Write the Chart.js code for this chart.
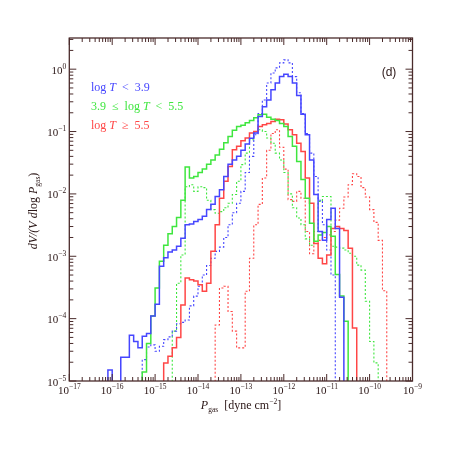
<!DOCTYPE html>
<html>
<head>
<meta charset="utf-8">
<script src="https://cdn.jsdelivr.net/npm/chart.js@4.4.1/dist/chart.umd.min.js"></script>
<style>
  html, body { margin: 0; padding: 0; background: #fff; }
  #wrap { width: 450px; height: 450px; }
</style>
</head>
<body>
<div id="wrap"><canvas id="chart" width="450" height="450"></canvas></div>
<script>
// histogram bins are 0.1 dex wide in log P_gas
var binWidth = 0.1;

// tick labels (powers of ten)
var xTickExps = [-17, -16, -15, -14, -13, -12, -11, -10, -9];
var yTickExps = [-5, -4, -3, -2, -1, 0];

// log T < 3.9, solid (first bin starts at log P = -16.1)
var blueSolidStart = -16.1;
var blueSolid = [1.5e-5, 0, 0, 2.4e-5, 2.4e-5, 5.4e-5, 4.3e-5, 3.4e-5, 5.2e-5, 5.8e-5,
	1.1e-4, 1.7e-4, 6.9e-4, 9.5e-4, 1.17e-3, 1.26e-3, 1.45e-3, 1.95e-3, 3.2e-3, 3.3e-3,
	3.6e-3, 3.9e-3, 4.4e-3, 5.6e-3, 6.8e-3, 9.1e-3, 1.17e-2, 1.9e-2, 3.0e-2, 3.5e-2,
	4.0e-2, 5.0e-2, 6.3e-2, 7.8e-2, 9.5e-2, 0.174, 0.25, 0.32, 0.47, 0.60,
	0.76, 0.83, 0.76, 0.60, 0.38, 0.19, 0.089, 0.035, 9.8e-3, 2.5e-3,
	1.8e-3, 3.9e-3, 5.9e-3, 2.8e-3, 2.2e-4];

// log T < 3.9, dotted
var blueDottedStart = -15.3;
var blueDotted = [2.2e-5, 3.5e-5, 3.8e-5, 3.0e-5, 3.6e-5, 4.6e-5, 5.1e-5, 6.3e-5, 8.3e-5, 8.7e-5,
	9.5e-5, 1.6e-4, 2.3e-4, 3.3e-4, 5.0e-4, 7.1e-4, 9.3e-4, 1.2e-3, 1.4e-3, 2.0e-3,
	3.2e-3, 5.0e-3, 7.1e-3, 1.1e-2, 2.2e-2, 4.0e-2, 8.9e-2, 0.195, 0.32, 0.60,
	0.87, 1.05, 1.26, 1.41, 1.26, 0.76, 0.42, 0.195, 0.093, 0.045,
	0.019, 7.9e-3, 3.2e-3, 1.26e-3, 5.0e-4];

// 3.9 <= log T < 5.5, solid
var greenSolidStart = -15.3;
var greenSolid = [1.4e-5, 4.0e-5, 1.1e-4, 3.1e-4, 8.3e-4, 1.5e-3, 2.3e-3, 3.0e-3, 4.2e-3, 7.9e-3,
	2.7e-2, 1.8e-2, 1.9e-2, 2.2e-2, 2.5e-2, 3.0e-2, 3.5e-2, 4.2e-2, 5.2e-2, 6.6e-2,
	8.3e-2, 0.105, 0.12, 0.126, 0.138, 0.151, 0.166, 0.186, 0.19, 0.17,
	0.158, 0.151, 0.135, 0.12, 0.083, 0.058, 0.033, 0.017, 8.5e-3, 3.4e-3,
	1.74e-3, 2.2e-3, 2.4e-3, 3.0e-3, 2.1e-3, 5.1e-4, 2.3e-4, 9.1e-5];

// 3.9 <= log T < 5.5, dotted
var greenDottedStart = -14.6;
var greenDotted = [6.3e-5, 3.7e-4, 1.05e-3, 1.3e-2, 1.4e-2, 1.1e-2, 1.3e-2, 1.26e-2, 7.9e-3, 5.6e-3,
	4.9e-3, 5.2e-3, 6.0e-3, 7.1e-3, 9.8e-3, 1.6e-2, 2.95e-2, 4.5e-2, 7.4e-2, 0.10,
	0.107, 0.10, 0.079, 0.065, 0.045, 0.035, 0.022, 0.010, 6.0e-3, 4.1e-3,
	3.2e-3, 1.9e-3, 1.5e-3, 2.5e-3, 7.6e-3, 9.1e-3, 9.1e-3, 1.45e-3, 1.4e-3, 1.35e-3,
	1.26e-3, 1.12e-3, 1.0e-3, 7.2e-4, 6.0e-4, 1.9e-4, 4.3e-5, 1.95e-5];

// log T >= 5.5, solid
var redSolidStart = -14.8;
var redSolid = [1.95e-5, 2.5e-5, 3.4e-5, 5.0e-5, 1.66e-4, 4.5e-4, 4.2e-4, 4.0e-4, 3.5e-4, 2.75e-4,
	3.7e-4, 1.2e-3, 3.2e-3, 8.5e-3, 1.6e-2, 2.75e-2, 5.1e-2, 5.8e-2, 7.1e-2, 7.9e-2,
	9.5e-2, 0.10, 0.12, 0.129, 0.135, 0.145, 0.158, 0.155, 0.132, 0.107,
	0.089, 0.065, 0.048, 0.018, 7.1e-3, 1.6e-3, 9.3e-4, 7.6e-4, 1.05e-3, 2.8e-3,
	3.0e-3, 2.8e-3, 2.6e-3, 1.35e-3, 7.1e-5];

// log T >= 5.5, dotted
var redDottedStart = -13.6;
var redDotted = [7.9e-5, 3.1e-4, 3.3e-4, 1.3e-4, 6.3e-5, 3.4e-5, 3.4e-5, 2.75e-4, 9.3e-4, 3.2e-3,
	6.8e-3, 1.8e-2, 5.0e-2, 9.3e-2, 0.107, 5.6e-2, 2.5e-2, 8.1e-3, 7.6e-3, 1.1e-2,
	8.5e-3, 2.5e-3, 1.1e-3, 1.6e-3, 1.8e-3, 2.0e-3, 2.2e-3, 2.5e-3, 3.8e-3, 5.9e-3,
	8.9e-3, 1.4e-2, 2.1e-2, 1.9e-2, 1.26e-2, 8.9e-3, 5.6e-3, 3.5e-3, 1.8e-3, 2.8e-4];

var BLUE = '#4646ff', GREEN = '#3fe63f', RED = '#ff4646';
var AXIS = '#4a2b2b', TEXT = '#2a1616';
var SERIF = '"Liberation Serif", "DejaVu Serif", serif';

// empty bins drop to below the axis floor
var FLOOR = 1e-7;

function histPoints(start, values) {
	var pts = [{x: Math.pow(10, start), y: FLOOR}];
	values.forEach(function(v, i) {
		pts.push({x: Math.pow(10, start + i * binWidth), y: v > 0 ? v : FLOOR});
	});
	pts.push({x: Math.pow(10, start + values.length * binWidth), y: FLOOR});
	return pts;
}

function histSet(start, values, color, dotted) {
	return {
		data: histPoints(start, values),
		borderColor: color,
		borderWidth: dotted ? 1.1 : 1.5,
		borderDash: dotted ? [2, 2] : [],
		stepped: true,
		pointRadius: 0,
		fill: false,
		clip: 0
	};
}

// draw pieces of text one after another: [text, font, dy]
function drawRich(ctx, segs, x, y, align) {
	var total = 0;
	segs.forEach(function(s) { ctx.font = s[1]; total += ctx.measureText(s[0]).width; });
	var cx = align === 'center' ? x - total / 2 : (align === 'right' ? x - total : x);
	ctx.textAlign = 'left';
	ctx.textBaseline = 'alphabetic';
	segs.forEach(function(s) {
		ctx.font = s[1];
		ctx.fillText(s[0], cx, y + (s[2] || 0));
		cx += ctx.measureText(s[0]).width;
	});
}

function powSegs(e) {
	return [['10', '11px ' + SERIF], [(e < 0 ? '\u2212' : '') + Math.abs(e), '7.5px ' + SERIF, -5]];
}

var frame = {
	id: 'frame',
	afterDraw: function(chart) {
		var ctx = chart.ctx, a = chart.chartArea;
		var xs = chart.scales.x, ys = chart.scales.y;
		ctx.save();
		ctx.strokeStyle = AXIS;
		ctx.lineWidth = 1.3;
		ctx.strokeRect(a.left, a.top, a.right - a.left, a.bottom - a.top);

		// inward ticks on all four sides
		ctx.lineWidth = 1;
		ctx.beginPath();
		xTickExps.forEach(function(e) {
			for (var m = 1; m < 10; m++) {
				var v = m * Math.pow(10, e);
				if (v > xs.max * 1.0001) break;
				var px = xs.getPixelForValue(v), len = m === 1 ? 7 : 4;
				ctx.moveTo(px, a.bottom); ctx.lineTo(px, a.bottom - len);
				ctx.moveTo(px, a.top); ctx.lineTo(px, a.top + len);
			}
		});
		yTickExps.forEach(function(e) {
			for (var m = 1; m < 10; m++) {
				var v = m * Math.pow(10, e);
				if (v > ys.max * 1.0001) break;
				var py = ys.getPixelForValue(v), len = m === 1 ? 7 : 4;
				ctx.moveTo(a.left, py); ctx.lineTo(a.left + len, py);
				ctx.moveTo(a.right, py); ctx.lineTo(a.right - len, py);
			}
		});
		ctx.stroke();

		// tick labels
		ctx.fillStyle = TEXT;
		xTickExps.forEach(function(e) {
			drawRich(ctx, powSegs(e), xs.getPixelForValue(Math.pow(10, e)), a.bottom + 13, 'center');
		});
		yTickExps.forEach(function(e) {
			drawRich(ctx, powSegs(e), a.left - 3, ys.getPixelForValue(Math.pow(10, e)) + 4.5, 'right');
		});

		// axis titles
		var it = 'italic 12px ' + SERIF, rm = '12px ' + SERIF, sm = '7.5px ' + SERIF;
		drawRich(ctx, [['P', it], ['gas', sm, 3], ['  [dyne cm', rm], ['\u22122', sm, -5], [']', rm]],
			241, 409, 'center');
		ctx.save();
		ctx.translate(37, 211);
		ctx.rotate(-Math.PI / 2);
		drawRich(ctx, [['dV/(V d', it], ['log ', rm], ['P', it], ['gas', sm, 3], [')', rm]], 0, 0, 'center');
		ctx.restore();

		// labels for the three temperature ranges
		ctx.fillStyle = BLUE;
		drawRich(ctx, [['log ', rm], ['T', it], ['  <  3.9', rm]], 91, 91, 'left');
		ctx.fillStyle = GREEN;
		drawRich(ctx, [['3.9  \u2264  log ', rm], ['T', it], ['  <  5.5', rm]], 91, 110, 'left');
		ctx.fillStyle = RED;
		drawRich(ctx, [['log ', rm], ['T', it], ['  \u2265  5.5', rm]], 91, 129, 'left');

		ctx.fillStyle = TEXT;
		ctx.font = '12px "Liberation Sans", Arial, sans-serif';
		ctx.textAlign = 'center';
		ctx.fillText('(d)', 389, 76);
		ctx.restore();
	}
};

new Chart(document.getElementById('chart'), {
	type: 'line',
	data: {
		datasets: [
			histSet(blueSolidStart, blueSolid, BLUE, false),
			histSet(greenSolidStart, greenSolid, GREEN, false),
			histSet(redSolidStart, redSolid, RED, false),
			histSet(blueDottedStart, blueDotted, BLUE, true),
			histSet(greenDottedStart, greenDotted, GREEN, true),
			histSet(redDottedStart, redDotted, RED, true)
		]
	},
	options: {
		responsive: false,
		animation: false,
		devicePixelRatio: 1,
		layout: { padding: { left: 69.3, right: 37.5, top: 38, bottom: 69 } },
		plugins: { legend: { display: false }, tooltip: { enabled: false } },
		scales: {
			x: { type: 'logarithmic', display: false, min: 1e-17, max: 1e-9 },
			y: { type: 'logarithmic', display: false, min: 1e-5, max: Math.pow(10, 0.5) }
		}
	},
	plugins: [frame]
});
</script>
</body>
</html>
